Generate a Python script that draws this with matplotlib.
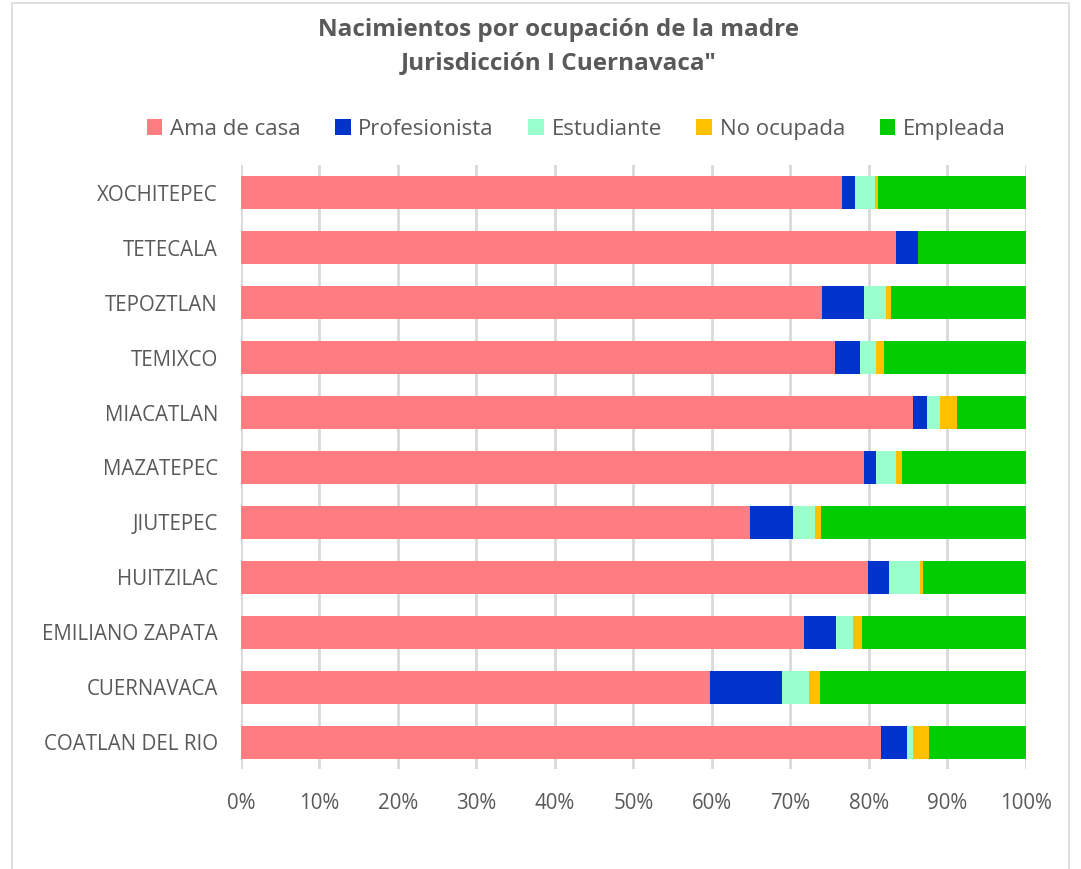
import numpy as np
import matplotlib
matplotlib.use('Agg')
import matplotlib.pyplot as plt
from matplotlib.patches import Patch, Rectangle
from matplotlib.ticker import PercentFormatter

plt.rcParams['font.family'] = ['Open Sans', 'DejaVu Sans']

# municipios (de arriba hacia abajo) y porcentajes por ocupación.
MUNICIPIOS = ['XOCHITEPEC', 'TETECALA', 'TEPOZTLAN', 'TEMIXCO', 'MIACATLAN', 'MAZATEPEC',
              'JIUTEPEC', 'HUITZILAC', 'EMILIANO ZAPATA', 'CUERNAVACA', 'COATLAN DEL RIO']
ama_casa      = [76.6, 83.5, 74.0, 75.7, 85.6, 79.4, 64.8, 79.9, 71.7, 59.8, 81.5]
profesionista = [1.6, 2.7, 5.4, 3.1, 1.8, 1.5, 5.5, 2.6, 4.1, 9.1, 3.4]
estudiante    = [2.6, 0.0, 2.8, 2.1, 1.6, 2.5, 2.8, 4.0, 2.2, 3.5, 0.7]
no_ocupada    = [0.4, 0.0, 0.6, 1.0, 2.2, 0.8, 0.8, 0.4, 1.1, 1.3, 2.1]
empleada      = [18.8, 13.8, 17.2, 18.1, 8.8, 15.8, 26.1, 13.1, 20.9, 26.3, 12.3]

SERIES = ['Ama de casa', 'Profesionista', 'Estudiante', 'No ocupada', 'Empleada']
COLORES = ['#FF7C80', '#0033CC', '#99FFCC', '#FFC000', '#00CC00']
TXT = '#595959'

fig = plt.figure(figsize=(10.81, 8.69), dpi=100)
ax = fig.add_axes([0.2229, 0.1145, 0.7262, 0.6951])

# barras apiladas.
y = np.arange(len(MUNICIPIOS))
izq = np.zeros(len(MUNICIPIOS))
for vals, nombre, color in zip([ama_casa, profesionista, estudiante, no_ocupada, empleada], SERIES, COLORES):
    vals = np.array(vals)
    ax.barh(y, vals, left=izq, height=0.6, color=color, label=nombre, zorder=3)
    izq += vals

ax.set_xlim(0, 100)
ax.set_ylim(len(MUNICIPIOS) - 0.5, -0.5)
ax.set_yticks(y)
ax.set_yticklabels(MUNICIPIOS)
ax.set_xticks(np.arange(0, 101, 10))
ax.xaxis.set_major_formatter(PercentFormatter(decimals=0))
ax.tick_params(axis='both', length=0, labelsize=14.8, labelcolor=TXT)
ax.tick_params(axis='x', pad=17)
ax.tick_params(axis='y', pad=16.5)
ax.grid(axis='x', color='#D9D9D9', lw=2, zorder=0)
ax.set_axisbelow(True)
for s in ax.spines.values():
    s.set_visible(False)

# título.
fig.text(0.517, 0.965, 'Nacimientos por ocupación de la madre', ha='center', va='center',
         fontsize=17.5, fontweight='bold', color=TXT)
fig.text(0.517, 0.927, 'Jurisdicción I Cuernavaca"', ha='center', va='center',
         fontsize=17.5, fontweight='bold', color=TXT)

# leyenda.
handles = [Patch(facecolor=c, edgecolor='none') for c in COLORES]
fig.legend(handles, SERIES, loc='center', bbox_to_anchor=(0.533, 0.851), ncol=5, frameon=False,
           fontsize=16, labelcolor=TXT, handlelength=0.7, handleheight=0.7,
           handletextpad=0.35, columnspacing=1.55)

# borde del área del gráfico.
fig.patches.append(Rectangle((12 / 1081, -0.01), 1057 / 1081, 1.0065, transform=fig.transFigure,
                             fill=False, edgecolor='#D9D9D9', lw=1.2))

plt.savefig('out.png', dpi=100)
plt.close()
